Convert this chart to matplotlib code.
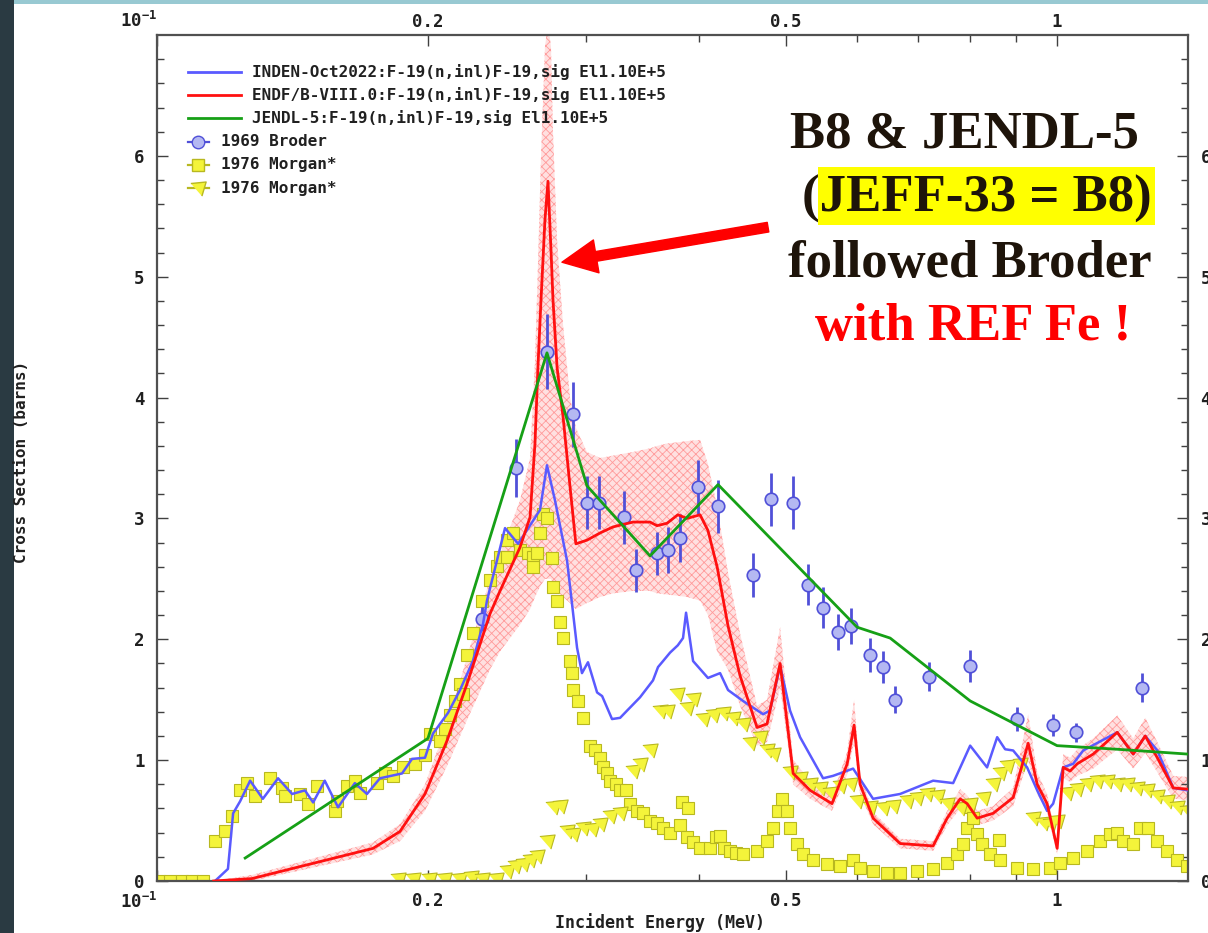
import numpy as np
import matplotlib
matplotlib.use("Agg")
import matplotlib.pyplot as plt
from matplotlib.patches import Rectangle
from matplotlib.transforms import ScaledTranslation
from matplotlib.ticker import FixedLocator, FixedFormatter, NullFormatter

plt.rcParams['font.family'] = ['DejaVu Sans Mono']
plt.rcParams['font.weight'] = 'bold'
plt.rcParams['mathtext.default'] = 'regular'
plt.rcParams['hatch.linewidth'] = 0.6

# ---------------- evaluated cross sections (MeV, barns) ----------------
inden_e = [0.1160, 0.1199, 0.1215, 0.1237, 0.1269, 0.1311, 0.1363, 0.1413, 0.1460, 0.1491,
           0.1536, 0.1589, 0.1659, 0.1711, 0.1769, 0.1872, 0.1920, 0.1985, 0.2026, 0.2105,
           0.2171, 0.2244, 0.2303, 0.2326, 0.2436, 0.2519, 0.2664, 0.2712, 0.2768, 0.2855,
           0.2929, 0.2966, 0.3012, 0.3083, 0.3123, 0.3203, 0.3270, 0.3329, 0.3441, 0.3557,
           0.3603, 0.3650, 0.3716, 0.3790, 0.3841, 0.3871, 0.3911, 0.3941, 0.4094, 0.4223,
           0.4310, 0.4478, 0.4714, 0.4798, 0.4924, 0.5051, 0.5182, 0.5496, 0.5638, 0.5935,
           0.6246, 0.6693, 0.7283, 0.7666, 0.8007, 0.8361, 0.8580, 0.8757, 0.8938, 0.9263,
           0.9505, 0.9749, 0.9901, 1.0159, 1.0422, 1.0693, 1.1665, 1.2152, 1.2532, 1.2924,
           1.3463, 1.398]
inden_xs = [0.00, 0.10, 0.56, 0.66, 0.83, 0.68, 0.85, 0.72, 0.75, 0.65,
            0.83, 0.61, 0.81, 0.72, 0.85, 0.89, 1.01, 1.02, 1.22, 1.39,
            1.58, 1.82, 2.13, 2.32, 2.92, 2.79, 3.07, 3.44, 3.15, 2.65,
            1.93, 1.72, 1.81, 1.56, 1.53, 1.34, 1.35, 1.41, 1.52, 1.66,
            1.77, 1.82, 1.89, 1.95, 2.01, 2.22, 1.99, 1.82, 1.68, 1.72,
            1.58, 1.49, 1.38, 1.41, 1.78, 1.41, 1.19, 0.85, 0.87, 0.93,
            0.68, 0.72, 0.83, 0.81, 1.12, 0.94, 1.19, 1.09, 1.08, 0.94,
            0.75, 0.58, 0.64, 0.94, 0.97, 1.08, 1.23, 1.05, 1.20, 1.08,
            0.77, 0.75]

endf_e = [0.1156, 0.1275, 0.1738, 0.1862, 0.1985, 0.2100, 0.2210, 0.2344, 0.2405, 0.2531,
          0.2597, 0.2630, 0.2650, 0.2671, 0.2698, 0.2719, 0.2740, 0.2754, 0.2783, 0.2826,
          0.2877, 0.2920, 0.3004, 0.3107, 0.3212, 0.3380, 0.3530, 0.3594, 0.3687, 0.3790,
          0.3880, 0.4012, 0.4094, 0.4191, 0.4310, 0.4444, 0.4642, 0.4762, 0.4924, 0.5091,
          0.5317, 0.5623, 0.5846, 0.5950, 0.6042, 0.6246, 0.6693, 0.7283, 0.7549, 0.7805,
          0.7946, 0.8152, 0.8491, 0.8938, 0.9288, 0.9505, 0.9749, 1.0004, 1.0159, 1.0339,
          1.0531, 1.0969, 1.1665, 1.2152, 1.2532, 1.2924, 1.3463, 1.398]
endf_xs = [0.00, 0.02, 0.27, 0.41, 0.72, 1.16, 1.63, 2.21, 2.40, 2.76,
           3.01, 3.62, 4.25, 4.81, 5.47, 5.79, 5.22, 4.81, 4.25, 3.84,
           3.26, 2.79, 2.82, 2.88, 2.93, 2.97, 2.97, 2.94, 2.96, 3.03,
           3.00, 3.03, 2.90, 2.60, 2.11, 1.70, 1.27, 1.30, 1.80, 0.89,
           0.75, 0.64, 0.97, 1.29, 0.80, 0.52, 0.31, 0.29, 0.52, 0.68,
           0.64, 0.52, 0.56, 0.69, 1.14, 0.80, 0.64, 0.27, 0.94, 0.91,
           0.97, 1.05, 1.23, 1.05, 1.20, 1.02, 0.77, 0.76]
endf_lo = [0.00, 0.00, 0.22, 0.33, 0.58, 0.95, 1.33, 1.75, 1.90, 2.12,
           2.25, 2.35, 2.40, 2.45, 2.50, 2.50, 2.50, 2.45, 2.40, 2.35,
           2.30, 2.25, 2.30, 2.35, 2.38, 2.40, 2.40, 2.38, 2.37, 2.36,
           2.35, 2.32, 2.20, 1.90, 1.75, 1.45, 1.12, 1.15, 1.60, 0.80,
           0.68, 0.58, 0.88, 1.15, 0.72, 0.47, 0.27, 0.25, 0.46, 0.60,
           0.57, 0.46, 0.50, 0.62, 1.00, 0.72, 0.57, 0.22, 0.85, 0.82,
           0.87, 0.93, 1.09, 0.93, 1.06, 0.90, 0.68, 0.67]
endf_hi = [0.00, 0.05, 0.32, 0.47, 0.80, 1.30, 1.85, 2.50, 2.70, 3.15,
           3.50, 4.30, 5.10, 6.00, 6.90, 7.10, 6.90, 6.20, 5.30, 4.60,
           4.00, 3.75, 3.55, 3.50, 3.52, 3.55, 3.58, 3.60, 3.62, 3.63,
           3.64, 3.65, 3.45, 3.10, 2.55, 2.05, 1.45, 1.50, 2.10, 1.00,
           0.83, 0.70, 1.07, 1.50, 0.88, 0.57, 0.35, 0.33, 0.58, 0.76,
           0.71, 0.58, 0.62, 0.77, 1.38, 0.90, 0.72, 0.32, 1.05, 1.02,
           1.09, 1.18, 1.37, 1.18, 1.35, 1.15, 0.87, 0.86]

jendl_e = [0.1253, 0.2000, 0.2712, 0.3004, 0.3530, 0.4201, 0.5996, 0.6525, 0.8007, 1.0000,
           1.1665, 1.398]
jendl_xs = [0.19, 1.18, 4.37, 3.27, 2.69, 3.28, 2.10, 2.01, 1.49, 1.12, 1.09, 1.05]

# ---------------- measurements ----------------
broder_e = [0.2297, 0.2505, 0.2712, 0.2899, 0.3004, 0.3099, 0.3304, 0.3406, 0.3594, 0.3697,
            0.3812, 0.3992, 0.4201, 0.4594, 0.4810, 0.5091, 0.5289, 0.5496, 0.5712, 0.5904,
            0.6198, 0.6409, 0.6609, 0.7208, 0.8007, 0.9032, 0.9901, 1.0496, 1.2437]
broder_xs = [2.17, 3.42, 4.38, 3.86, 3.13, 3.13, 3.01, 2.57, 2.71, 2.74,
             2.84, 3.26, 3.10, 2.53, 3.16, 3.13, 2.45, 2.26, 2.06, 2.11,
             1.87, 1.77, 1.50, 1.69, 1.78, 1.34, 1.29, 1.23, 1.60]
broder_err = [0.10, 0.24, 0.31, 0.27, 0.22, 0.22, 0.22, 0.18, 0.18, 0.19,
              0.20, 0.22, 0.22, 0.18, 0.22, 0.22, 0.17, 0.17, 0.15, 0.15,
              0.14, 0.13, 0.11, 0.12, 0.13, 0.10, 0.09, 0.08, 0.12]

morgan_sq_e = [0.1005, 0.1035, 0.1065, 0.1095, 0.1125, 0.1160, 0.1190, 0.1211, 0.1237, 0.1259,
               0.1285, 0.1335, 0.1377, 0.1388, 0.1442, 0.1472, 0.1506, 0.1576, 0.1584, 0.1626,
               0.1659, 0.1681, 0.1756, 0.1792, 0.1829, 0.1876, 0.1934, 0.1985, 0.2011, 0.2063,
               0.2089, 0.2116, 0.2144, 0.2171, 0.2188, 0.2210, 0.2244, 0.2297, 0.2344, 0.2385,
               0.2405, 0.2448, 0.2448, 0.2489, 0.2531, 0.2583, 0.2617, 0.2617, 0.2644, 0.2664,
               0.2685, 0.2712, 0.2747, 0.2754, 0.2783, 0.2804, 0.2826, 0.2877, 0.2891, 0.2899,
               0.2936, 0.2974, 0.3027, 0.3067, 0.3107, 0.3131, 0.3163, 0.3187, 0.3236, 0.3270,
               0.3320, 0.3355, 0.3415, 0.3467, 0.3530, 0.3594, 0.3650, 0.3716, 0.3812, 0.3831,
               0.3891, 0.3880, 0.3941, 0.4012, 0.4116, 0.4174, 0.4223, 0.4266, 0.4332, 0.4397,
               0.4478, 0.4642, 0.4762, 0.4836, 0.4898, 0.4949, 0.5013, 0.5051, 0.5140, 0.5222,
               0.5357, 0.5552, 0.5741, 0.5935, 0.6042, 0.6246, 0.6475, 0.6693, 0.6991, 0.7283,
               0.7549, 0.7745, 0.7865, 0.7946, 0.7965, 0.8068, 0.8152, 0.8256, 0.8427, 0.8617,
               0.8646, 0.9032, 0.9408, 0.9826, 1.0081, 1.0422, 1.0803, 1.1168, 1.1456, 1.1665,
               1.1845, 1.2152, 1.2373, 1.2629, 1.2924, 1.3258, 1.3603, 1.3955]
morgan_sq_xs = [0.00, 0.00, 0.00, 0.00, 0.00, 0.33, 0.41, 0.54, 0.75, 0.81,
                0.70, 0.85, 0.77, 0.70, 0.72, 0.64, 0.79, 0.58, 0.66, 0.79,
                0.83, 0.73, 0.81, 0.89, 0.87, 0.94, 0.97, 1.04, 1.22, 1.16,
                1.26, 1.37, 1.49, 1.63, 1.55, 1.87, 2.05, 2.32, 2.49, 2.61,
                2.68, 2.68, 2.82, 2.88, 2.74, 2.71, 2.68, 2.60, 2.71, 2.88,
                3.04, 3.00, 2.67, 2.43, 2.32, 2.14, 2.01, 1.82, 1.72, 1.58,
                1.49, 1.35, 1.12, 1.08, 1.02, 0.94, 0.89, 0.83, 0.80, 0.75,
                0.75, 0.64, 0.58, 0.56, 0.50, 0.48, 0.44, 0.40, 0.46, 0.65,
                0.60, 0.36, 0.32, 0.27, 0.27, 0.36, 0.37, 0.27, 0.25, 0.23,
                0.22, 0.25, 0.33, 0.44, 0.58, 0.68, 0.58, 0.44, 0.31, 0.22,
                0.17, 0.14, 0.12, 0.17, 0.11, 0.08, 0.07, 0.07, 0.08, 0.10,
                0.15, 0.22, 0.31, 0.44, 0.61, 0.52, 0.39, 0.31, 0.22, 0.34,
                0.17, 0.11, 0.10, 0.11, 0.15, 0.19, 0.25, 0.33, 0.39, 0.40,
                0.33, 0.31, 0.44, 0.44, 0.33, 0.25, 0.17, 0.12]

morgan_tri_e = [0.1852, 0.1925, 0.2005, 0.2084, 0.2166, 0.2232, 0.2297, 0.2380, 0.2448, 0.2499,
                0.2550, 0.2597, 0.2644, 0.2712, 0.2754, 0.2804, 0.2855, 0.2899, 0.2974, 0.3043,
                0.3107, 0.3187, 0.3270, 0.3380, 0.3441, 0.3530, 0.3622, 0.3687, 0.3781, 0.3880,
                0.3941, 0.4043, 0.4147, 0.4255, 0.4366, 0.4478, 0.4559, 0.4678, 0.4762, 0.4836,
                0.5051, 0.5182, 0.5317, 0.5454, 0.5596, 0.5741, 0.5890, 0.5996, 0.6198, 0.6409,
                0.6575, 0.6814, 0.6991, 0.7172, 0.7359, 0.7549, 0.7805, 0.8007, 0.8277, 0.8491,
                0.8646, 0.8802, 0.9100, 0.9408, 0.9652, 0.9826, 1.0004, 1.0263, 1.0531, 1.0803,
                1.1083, 1.1369, 1.1665, 1.1967, 1.2280, 1.2597, 1.2924, 1.3258, 1.3603, 1.3955]
morgan_tri_xs = [0.02, 0.02, 0.02, 0.02, 0.02, 0.03, 0.02, 0.02, 0.08, 0.12,
                 0.14, 0.17, 0.21, 0.33, 0.61, 0.62, 0.41, 0.39, 0.44, 0.43,
                 0.47, 0.54, 0.56, 0.91, 0.97, 1.08, 1.41, 1.41, 1.55, 1.43,
                 1.51, 1.34, 1.37, 1.39, 1.35, 1.30, 1.14, 1.19, 1.08, 1.05,
                 0.90, 0.85, 0.80, 0.77, 0.73, 0.79, 0.80, 0.66, 0.61, 0.60,
                 0.62, 0.66, 0.69, 0.72, 0.70, 0.64, 0.60, 0.64, 0.69, 0.80,
                 0.89, 0.95, 0.97, 0.52, 0.48, 0.47, 0.50, 0.73, 0.76, 0.80,
                 0.83, 0.83, 0.80, 0.80, 0.77, 0.75, 0.70, 0.66, 0.61, 0.58]

xtick_vals = [0.1, 0.2, 0.5, 1.0]
xtick_labels = ['10$^{-1}$', '0.2', '0.5', '1']
xminor_vals = [0.3, 0.4, 0.6, 0.7, 0.8, 0.9]
ytick_vals = [0, 1, 2, 3, 4, 5, 6]
ytick_labels = ['0', '1', '2', '3', '4', '5', '6']

legend_labels = ['INDEN-Oct2022:F-19(n,inl)F-19,sig El1.10E+5',
                 'ENDF/B-VIII.0:F-19(n,inl)F-19,sig El1.10E+5',
                 'JENDL-5:F-19(n,inl)F-19,sig El1.10E+5',
                 '1969 Broder',
                 '1976 Morgan*',
                 '1976 Morgan*']

# ---------------- styles ----------------
C_BLUE = '#5a5aff'
C_RED = '#ff1010'
C_GREEN = '#16a016'
SQ_FACE, SQ_EDGE = '#f4f43a', '#b8b820'
CIRC_FACE, CIRC_EDGE = '#b4b8f2', '#5050d8'
TRI_MARK = [(-1.0, 0.65), (1.0, 0.85), (0.45, -1.0)]

W, H = 1208, 933
fig = plt.figure(figsize=(W / 100, H / 100), dpi=100)
fig.patches.append(Rectangle((0, 0), 14 / W, 1, transform=fig.transFigure,
                             facecolor='#2a3a42', edgecolor='none', zorder=0))
fig.patches.append(Rectangle((14 / W, 1 - 4 / H), 1, 4 / H, transform=fig.transFigure,
                             facecolor='#98c9d2', edgecolor='none', zorder=0))

ax = fig.add_axes([157 / W, 52 / H, 1031 / W, 846 / H])
ax.set_xscale('log')
ax.set_xlim(0.1, 1.398)
ax.set_ylim(0, 7)

# uncertainty band of ENDF/B-VIII.0
ax.fill_between(endf_e, endf_lo, endf_hi, facecolor='#ffe0e0', edgecolor='#ff9a9a',
                hatch='xxxx', linewidth=0, zorder=1)

# measurements
ax.plot(morgan_sq_e, morgan_sq_xs, ls='none', marker='s', ms=9, mfc=SQ_FACE,
        mec=SQ_EDGE, mew=0.8, zorder=2)
ax.plot(morgan_tri_e, morgan_tri_xs, ls='none', marker=TRI_MARK, ms=11, mfc=SQ_FACE,
        mec=SQ_EDGE, mew=0.8, zorder=2)
ax.errorbar(broder_e, broder_xs, yerr=broder_err, fmt='o', ms=9, mfc=CIRC_FACE,
            mec=CIRC_EDGE, mew=1.2, ecolor=CIRC_EDGE, elinewidth=2, capsize=0, zorder=3)

# evaluations
ax.plot(inden_e, inden_xs, color=C_BLUE, lw=1.8, zorder=4)
ax.plot(endf_e, endf_xs, color=C_RED, lw=2.0, zorder=5)
ax.plot(jendl_e, jendl_xs, color=C_GREEN, lw=2.0, zorder=6)

# axes decoration
ax.xaxis.set_major_locator(FixedLocator(xtick_vals))
ax.xaxis.set_major_formatter(FixedFormatter(xtick_labels))
ax.xaxis.set_minor_locator(FixedLocator(xminor_vals))
ax.xaxis.set_minor_formatter(NullFormatter())
ax.yaxis.set_major_locator(FixedLocator(ytick_vals))
ax.yaxis.set_major_formatter(FixedFormatter(ytick_labels))
ax.yaxis.set_minor_locator(FixedLocator([k / 5 for k in range(1, 35) if k % 5]))
ax.tick_params(which='both', direction='in', top=True, right=True, color='#404040',
               width=1.0, labeltop=True, labelright=True, labelsize=12.5,
               labelcolor='#202020')
ax.tick_params(which='major', length=8)
ax.tick_params(which='minor', length=5)
ax.tick_params(axis='x', which='major', pad=8)
ax.tick_params(axis='y', which='major', pad=9)
for sp in ax.spines.values():
    sp.set_color('#505050')
    sp.set_linewidth(1.6)

fig.canvas.draw()
shift_down = ScaledTranslation(0, -5 / 72, fig.dpi_scale_trans)
for tk in ax.xaxis.get_major_ticks():
    tk.label2.set_transform(tk.label2.get_transform() + shift_down)
    if tk.get_loc() == 0.1:
        tk.label1.set_horizontalalignment('right')
        tk.label2.set_horizontalalignment('right')

fig.text(22 / W, 1 - 462 / H, 'Cross Section (barns)', rotation=90, ha='center',
         va='center', fontsize=11.5, color='#202020')
fig.text(660 / W, 1 - 923 / H, 'Incident Energy (MeV)', ha='center', va='center',
         fontsize=12, color='#202020')

# legend drawn inside the frame
def axf(px, py):
    return (px - 157) / 1031, (881 - py) / 846

rows_y = [72, 95, 118, 142, 165, 188]
for yy, col in zip(rows_y[:3], [C_BLUE, C_RED, C_GREEN]):
    x0, y0 = axf(188, yy)
    x1, _ = axf(241, yy)
    ax.plot([x0, x1], [y0, y0], color=col, lw=2.0, transform=ax.transAxes,
            clip_on=False, zorder=7)
mk_styles = [('o', CIRC_FACE, CIRC_EDGE, 9), ('s', SQ_FACE, SQ_EDGE, 9),
             (TRI_MARK, SQ_FACE, SQ_EDGE, 11)]
for yy, (mk, fc, ec, ms) in zip(rows_y[3:], mk_styles):
    x0, y0 = axf(188, yy)
    x1, _ = axf(209, yy)
    xc, _ = axf(198, yy)
    ax.plot([x0, x1], [y0, y0], color=ec, lw=1.6, transform=ax.transAxes,
            clip_on=False, zorder=7)
    ax.plot([xc], [y0], marker=mk, ms=ms, mfc=fc, mec=ec, mew=1.0, ls='none',
            transform=ax.transAxes, clip_on=False, zorder=8)
for i, (yy, lab) in enumerate(zip(rows_y, legend_labels)):
    xt = 252 if i < 3 else 221
    tx, ty = axf(xt, yy)
    ax.text(tx, ty, lab, transform=ax.transAxes, ha='left', va='center',
            fontsize=11.5, color='#202020', zorder=9)

# commentary
serif = dict(family='Liberation Serif', weight='bold', fontsize=38)
fig.patches.append(Rectangle((818 / W, 1 - 225 / H), 337 / W, 58 / H,
                             transform=fig.transFigure, facecolor='#ffff00',
                             edgecolor='none', zorder=10))
fig.text(964 / W, 1 - 148 / H, 'B8 & JENDL-5', ha='center', va='baseline',
         color='#1e140a', zorder=11, **serif)
fig.text(977 / W, 1 - 212 / H, '(JEFF-33 = B8)', ha='center', va='baseline',
         color='#1e140a', zorder=11, **serif)
fig.text(970 / W, 1 - 277 / H, 'followed Broder', ha='center', va='baseline',
         color='#1e140a', zorder=11, **serif)
fig.text(973 / W, 1 - 340 / H, 'with REF Fe !', ha='center', va='baseline',
         color='#ff0000', zorder=11, **serif)

ax.annotate('', xy=(0.2818, 5.12), xytext=(0.4774, 5.41), xycoords='data',
            arrowprops=dict(facecolor='#ff0000', edgecolor='#ff0000', width=7,
                            headwidth=24, headlength=25, shrink=0.0),
            zorder=12, annotation_clip=False)

fig.savefig('out.png', dpi=100)
